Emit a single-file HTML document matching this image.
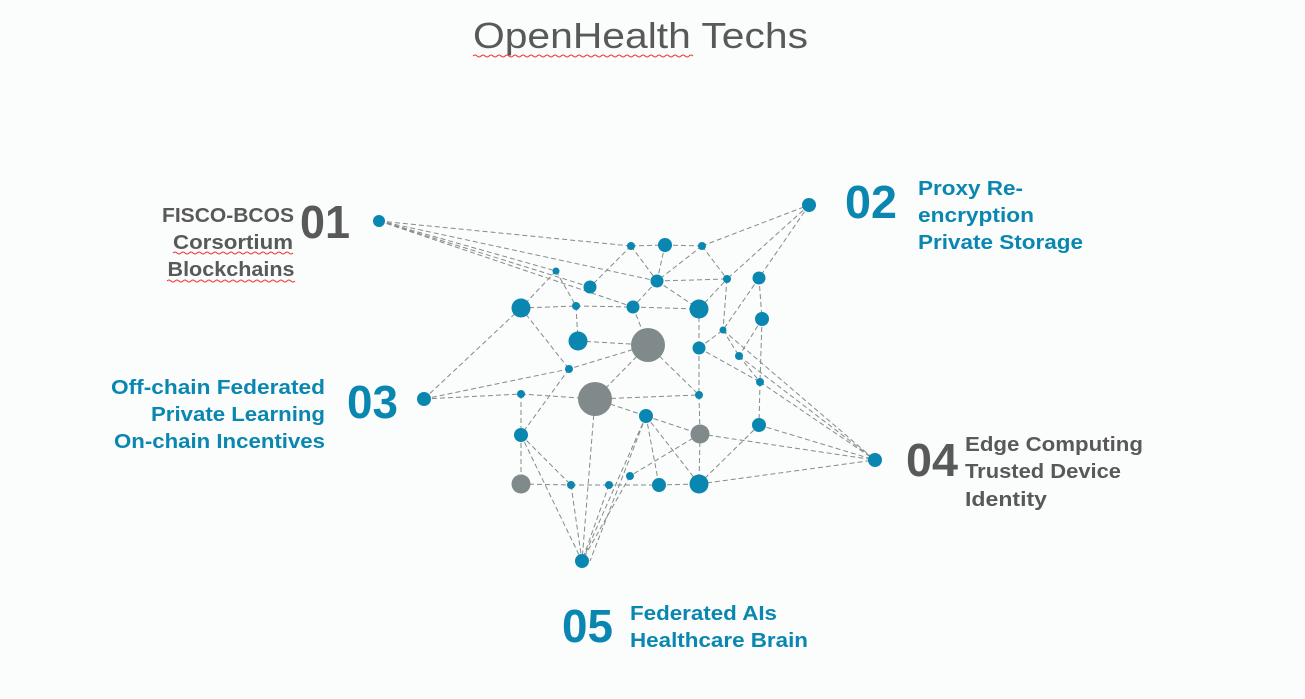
<!DOCTYPE html>
<html><head><meta charset="utf-8"><style>
html,body{margin:0;padding:0;background:#fbfcfc;}
svg{display:block}
text{font-family:"Liberation Sans",sans-serif;}
.b{font-weight:bold;font-size:20px;}
.n{font-weight:bold;font-size:46px;}
.g{fill:#595959}.c{fill:#0a87b0}
</style></head><body>
<svg width="1305" height="699" viewBox="0 0 1305 699" xmlns="http://www.w3.org/2000/svg">
<rect width="1305" height="699" fill="#fbfcfc"/>
<text x="473" y="48" font-size="36" fill="#595959" textLength="335" lengthAdjust="spacingAndGlyphs">OpenHealth Techs</text>
<path d="M473 56 q2 -2 4 0 t4 0 t4 0 t4 0 t4 0 t4 0 t4 0 t4 0 t4 0 t4 0 t4 0 t4 0 t4 0 t4 0 t4 0 t4 0 t4 0 t4 0 t4 0 t4 0 t4 0 t4 0 t4 0 t4 0 t4 0 t4 0 t4 0 t4 0 t4 0 t4 0 t4 0 t4 0 t4 0 t4 0 t4 0 t4 0 t4 0 t4 0 t4 0 t4 0 t4 0 t4 0 t4 0 t4 0 t4 0 t4 0 t4 0 t4 0 t4 0 t4 0 t4 0 t4 0 t4 0 t4 0 t4 0" fill="none" stroke="#e33" stroke-width="1"/>

<g stroke="#858a8a" stroke-width="1" stroke-dasharray="5,3" fill="none">
<line x1="379" y1="221" x2="631" y2="246"/><line x1="379" y1="221" x2="556" y2="271"/><line x1="379" y1="221" x2="590" y2="287"/><line x1="379" y1="221" x2="633" y2="307"/><line x1="379" y1="221" x2="657" y2="281"/>
<line x1="631" y1="246" x2="665" y2="245"/><line x1="665" y1="245" x2="702" y2="246"/><line x1="702" y1="246" x2="809" y2="205"/>
<line x1="631" y1="246" x2="590" y2="287"/><line x1="631" y1="246" x2="657" y2="281"/><line x1="665" y1="245" x2="657" y2="281"/><line x1="702" y1="246" x2="657" y2="281"/><line x1="702" y1="246" x2="727" y2="279"/>
<line x1="809" y1="205" x2="727" y2="279"/><line x1="809" y1="205" x2="759" y2="278"/><line x1="657" y1="281" x2="727" y2="279"/><line x1="657" y1="281" x2="699" y2="309"/><line x1="657" y1="281" x2="633" y2="307"/>
<line x1="556" y1="271" x2="521" y2="308"/><line x1="556" y1="271" x2="576" y2="306"/><line x1="521" y1="308" x2="576" y2="306"/><line x1="576" y1="306" x2="633" y2="307"/><line x1="633" y1="307" x2="699" y2="309"/>
<line x1="576" y1="306" x2="578" y2="341"/><line x1="578" y1="341" x2="648" y2="345"/><line x1="633" y1="307" x2="648" y2="345"/><line x1="699" y1="309" x2="727" y2="279"/><line x1="727" y1="279" x2="723" y2="330"/>
<line x1="759" y1="278" x2="762" y2="319"/><line x1="759" y1="278" x2="723" y2="330"/><line x1="762" y1="319" x2="739" y2="356"/><line x1="762" y1="319" x2="760" y2="382"/><line x1="699" y1="309" x2="699" y2="348"/><line x1="699" y1="348" x2="723" y2="330"/>
<line x1="699" y1="348" x2="699" y2="395"/><line x1="699" y1="348" x2="760" y2="382"/><line x1="521" y1="308" x2="424" y2="399"/><line x1="521" y1="308" x2="569" y2="369"/>
<line x1="648" y1="345" x2="569" y2="369"/><line x1="648" y1="345" x2="595" y2="399"/><line x1="648" y1="345" x2="699" y2="395"/>
<line x1="424" y1="399" x2="569" y2="369"/><line x1="424" y1="399" x2="521" y2="394"/><line x1="521" y1="394" x2="595" y2="399"/><line x1="521" y1="394" x2="521" y2="435"/><line x1="569" y1="369" x2="521" y2="435"/>
<line x1="595" y1="399" x2="699" y2="395"/><line x1="595" y1="399" x2="646" y2="416"/><line x1="595" y1="399" x2="582" y2="561"/>
<line x1="646" y1="416" x2="700" y2="434"/><line x1="699" y1="395" x2="700" y2="434"/><line x1="700" y1="434" x2="699" y2="484"/><line x1="700" y1="434" x2="630" y2="476"/>
<line x1="646" y1="416" x2="582" y2="561"/><line x1="646" y1="416" x2="590" y2="561"/><line x1="646" y1="416" x2="659" y2="485"/><line x1="646" y1="416" x2="699" y2="484"/>
<line x1="521" y1="435" x2="521" y2="484"/><line x1="521" y1="435" x2="571" y2="485"/><line x1="521" y1="435" x2="582" y2="561"/>
<line x1="521" y1="484" x2="571" y2="485"/><line x1="571" y1="485" x2="609" y2="485"/><line x1="609" y1="485" x2="659" y2="485"/><line x1="659" y1="485" x2="699" y2="484"/>
<line x1="571" y1="485" x2="582" y2="561"/><line x1="609" y1="485" x2="582" y2="561"/><line x1="630" y1="476" x2="582" y2="561"/>
<line x1="699" y1="484" x2="759" y2="425"/><line x1="699" y1="484" x2="875" y2="460"/><line x1="700" y1="434" x2="875" y2="460"/><line x1="759" y1="425" x2="875" y2="460"/>
<line x1="760" y1="382" x2="759" y2="425"/><line x1="760" y1="382" x2="875" y2="460"/><line x1="739" y1="356" x2="875" y2="460"/><line x1="723" y1="330" x2="875" y2="460"/><line x1="739" y1="356" x2="760" y2="382"/><line x1="723" y1="330" x2="739" y2="356"/>
</g>

<g fill="#0a87b0">
<circle cx="379" cy="221" r="6"/><circle cx="809" cy="205" r="7"/><circle cx="631" cy="246" r="4"/><circle cx="665" cy="245" r="7"/><circle cx="702" cy="246" r="4"/>
<circle cx="556" cy="271" r="3.5"/><circle cx="590" cy="287" r="6.5"/><circle cx="657" cy="281" r="6.5"/><circle cx="727" cy="279" r="4"/><circle cx="759" cy="278" r="6.5"/>
<circle cx="521" cy="308" r="9.5"/><circle cx="576" cy="306" r="4"/><circle cx="633" cy="307" r="6.5"/><circle cx="699" cy="309" r="9.5"/><circle cx="762" cy="319" r="7"/>
<circle cx="578" cy="341" r="9.5"/><circle cx="699" cy="348" r="6.5"/><circle cx="723" cy="330" r="3.5"/><circle cx="739" cy="356" r="4"/><circle cx="569" cy="369" r="4"/>
<circle cx="424" cy="399" r="7"/><circle cx="521" cy="394" r="4"/><circle cx="699" cy="395" r="4"/><circle cx="760" cy="382" r="4"/><circle cx="646" cy="416" r="7"/>
<circle cx="521" cy="435" r="7"/><circle cx="759" cy="425" r="7"/><circle cx="875" cy="460" r="7"/><circle cx="571" cy="485" r="4"/><circle cx="609" cy="485" r="4"/>
<circle cx="630" cy="476" r="4"/><circle cx="659" cy="485" r="7"/><circle cx="699" cy="484" r="9.5"/><circle cx="582" cy="561" r="7"/>
</g>
<g fill="#808a8a">
<circle cx="648" cy="345" r="17"/><circle cx="595" cy="399" r="17"/><circle cx="700" cy="434" r="9.5"/><circle cx="521" cy="484" r="9.5"/>
</g>

<text class="n g" x="300" y="238" textLength="50" lengthAdjust="spacingAndGlyphs">01</text>
<text class="b g" x="228" y="222" text-anchor="middle" textLength="132" lengthAdjust="spacingAndGlyphs">FISCO-BCOS</text>
<text class="b g" x="233" y="249" text-anchor="middle" textLength="120" lengthAdjust="spacingAndGlyphs">Corsortium</text>
<text class="b g" x="231" y="276" text-anchor="middle" textLength="127" lengthAdjust="spacingAndGlyphs">Blockchains</text>
<path d="M173 253 q2 -2 4 0 t4 0 t4 0 t4 0 t4 0 t4 0 t4 0 t4 0 t4 0 t4 0 t4 0 t4 0 t4 0 t4 0 t4 0 t4 0 t4 0 t4 0 t4 0 t4 0 t4 0 t4 0 t4 0 t4 0 t4 0 t4 0 t4 0 t4 0 t4 0 t4 0 M167 281 q2 -2 4 0 t4 0 t4 0 t4 0 t4 0 t4 0 t4 0 t4 0 t4 0 t4 0 t4 0 t4 0 t4 0 t4 0 t4 0 t4 0 t4 0 t4 0 t4 0 t4 0 t4 0 t4 0 t4 0 t4 0 t4 0 t4 0 t4 0 t4 0 t4 0 t4 0 t4 0 t4 0" fill="none" stroke="#e33" stroke-width="1"/>

<text class="n c" x="845" y="218" textLength="52" lengthAdjust="spacingAndGlyphs">02</text>
<text class="b c" x="918" y="195" textLength="105" lengthAdjust="spacingAndGlyphs">Proxy Re-</text>
<text class="b c" x="918" y="222" textLength="116" lengthAdjust="spacingAndGlyphs">encryption</text>
<text class="b c" x="918" y="249" textLength="165" lengthAdjust="spacingAndGlyphs">Private Storage</text>

<text class="n c" x="347" y="418" textLength="51" lengthAdjust="spacingAndGlyphs">03</text>
<text class="b c" x="325" y="394" text-anchor="end" textLength="214" lengthAdjust="spacingAndGlyphs">Off-chain Federated</text>
<text class="b c" x="325" y="421" text-anchor="end" textLength="174" lengthAdjust="spacingAndGlyphs">Private Learning</text>
<text class="b c" x="325" y="448" text-anchor="end" textLength="211" lengthAdjust="spacingAndGlyphs">On-chain Incentives</text>

<text class="n g" x="906" y="476" textLength="52" lengthAdjust="spacingAndGlyphs">04</text>
<text class="b g" x="965" y="451" textLength="178" lengthAdjust="spacingAndGlyphs">Edge Computing</text>
<text class="b g" x="965" y="478" textLength="156" lengthAdjust="spacingAndGlyphs">Trusted Device</text>
<text class="b g" x="965" y="506" textLength="82" lengthAdjust="spacingAndGlyphs">Identity</text>

<text class="n c" x="562" y="642" textLength="51" lengthAdjust="spacingAndGlyphs">05</text>
<text class="b c" x="630" y="620" textLength="147" lengthAdjust="spacingAndGlyphs">Federated AIs</text>
<text class="b c" x="630" y="647" textLength="178" lengthAdjust="spacingAndGlyphs">Healthcare Brain</text>
</svg>
</body></html>
